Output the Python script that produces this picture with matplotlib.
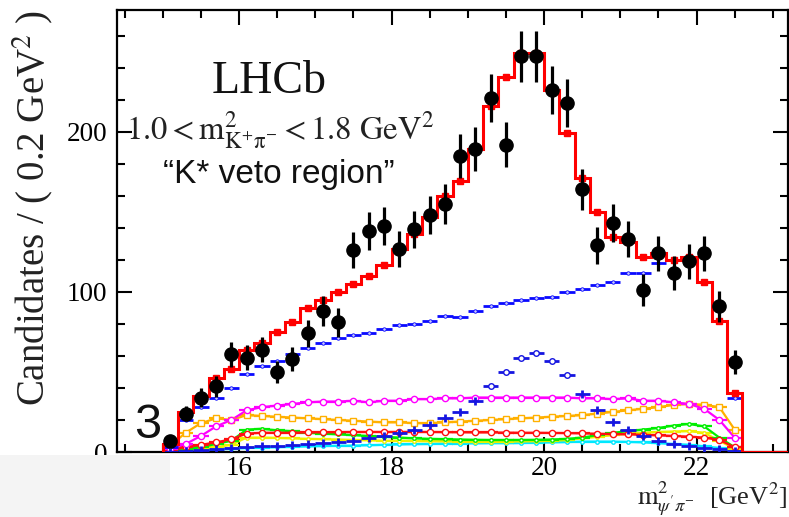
import numpy as np
import matplotlib
matplotlib.use('Agg')
from matplotlib import pyplot as plt
from matplotlib.patches import Rectangle
from matplotlib.ticker import MultipleLocator

plt.rcParams['font.family'] = ['Liberation Serif', 'DejaVu Serif']
plt.rcParams['mathtext.fontset'] = 'stix'

# binning: 0.2 GeV^2 bins between 15.0 and 22.6
edges = np.round(np.arange(15.0, 22.61, 0.2), 1)
m2 = np.round(0.5 * (edges[:-1] + edges[1:]), 2)
XMIN, XMAX = 14.4, 23.2

data = [7, 24, 34, 41, 61, 59, 64, 50, 58, 74, 88, 81, 126, 138, 141, 127, 139, 148,
        155, 185, 189, 221, 192, 247, 247, 226, 218, 164, 129, 143, 133, 101, 124, 112,
        119, 124, 91, 56]
fit = [5, 25, 35, 46, 52, 64, 68, 75, 81, 90, 95, 100, 105, 110, 117, 127, 136, 147,
       160, 169, 189, 216, 234, 249, 249, 226, 199, 171, 150, 134, 131, 122, 124, 120,
       122, 106, 82, 37]

# fit components
comp_blue = [3, 20, 28, 34, 40, 49, 54, 57, 61, 65, 68, 71, 73, 74, 77, 79, 80, 82, 85, 84,
             88, 91, 93, 95, 96, 97, 100, 102, 104, 106, 112, 112, 118, 120, 122, 106, 82, 34]
comp_z = [0.3, 0.8, 1.2, 2, 2.5, 3, 3.5, 4, 4.5, 5, 5.5, 6, 7, 8.5, 10, 12, 14, 17, 21, 25,
          32, 41, 50, 59, 62, 57, 48, 36, 26, 19, 14, 10, 7, 5, 3.5, 2.5, 2, 0.5]
comp_magenta = [2, 5, 10, 16, 20, 26, 28, 29, 30, 31, 31.5, 31.5, 32, 31, 32, 32, 33, 33, 33.5,
                33.5, 34, 34, 34, 34, 34, 34, 34, 33.5, 33.5, 33, 33.5, 32, 32, 31, 30, 27, 20, 9]
comp_orange = [4, 12, 18, 21, 20, 23, 22.5, 22, 21.5, 21, 20.5, 20, 19.5, 19, 18.5, 18.5, 18, 18,
               18.5, 19, 19.5, 20, 20.5, 21, 21.5, 22, 22.5, 23, 24, 25, 26, 27, 28, 29.4, 30,
               29.5, 28, 14]
comp_red = [1, 3, 4.5, 6, 8, 11.5, 12, 12, 12, 12.2, 12.3, 12.4, 12.5, 12.5, 12.5, 12.5, 12.5,
            12.5, 12.4, 12.3, 12.2, 12.2, 12.1, 12, 12, 11.9, 11.8, 11.6, 11.4, 11.2, 11, 10.7,
            10.4, 10, 9.6, 9, 7.5, 3]
comp_green = [0.5, 1.5, 3, 5, 7, 14, 14.5, 13.5, 13, 12, 11.5, 11, 10.5, 10, 9.5, 9, 8.5, 8.2,
              8, 7.8, 7.6, 7.5, 7.5, 7.5, 7.6, 7.8, 8.2, 9, 10.5, 12, 13, 14, 15, 16.5, 17.5,
              16, 9, 3]
comp_yellow = [0.5, 1, 2, 3, 4.5, 9, 9, 8.8, 8.5, 8.2, 8, 7.8, 7.5, 7.3, 7, 7, 6.8, 6.7, 6.6,
               6.5, 6.5, 6.5, 6.5, 6.6, 6.8, 7, 7.5, 8.5, 9.5, 10.5, 11.5, 12, 12.5, 12.8, 13,
               12, 7, 2]
comp_cyan = [0.3, 0.6, 1, 1.5, 2, 2.5, 2.7, 3, 3.2, 3.5, 3.7, 3.9, 4, 4.2, 4.5, 4.7, 4.9, 5,
             5.2, 5.3, 5.4, 5.5, 5.5, 5.6, 5.8, 6, 6.2, 6.5, 6.5, 6.5, 6.3, 6, 5.5, 5, 4.5,
             3.5, 2.5, 1]

W, H = 789, 517
fig = plt.figure(figsize=(W / 100, H / 100), dpi=100)
ax = fig.add_axes([117 / W, 65 / H, 671 / W, 442 / H])

half = 0.1
# lined components with open markers
lined = [
    (comp_cyan, '#00e8ff', 'o', 2.5),
    (comp_yellow, '#f0f000', 'o', 2.5),
    (comp_green, '#00ee00', 'o', 2.5),
    (comp_red, '#ff1010', 'o', 4.5),
    (comp_orange, '#ffb000', 's', 4.5),
    (comp_magenta, '#ff00ff', 'o', 4.5),
]
for vals, col, mk, ms in lined:
    ax.plot(m2, vals, color=col, lw=1.6, zorder=2)
    ax.errorbar(m2, vals, xerr=half, fmt=mk, color=col, mfc='white', mec=col, ms=ms,
                mew=1.0, elinewidth=1.6, capsize=0, zorder=2)

# Z-like peaking component
comp_z = np.array(comp_z)
peak = (m2 > 19.2) & (m2 < 20.4)
ax.errorbar(m2[~peak], comp_z[~peak], xerr=half, yerr=2.5, fmt='none', ecolor='#1515e0',
            elinewidth=2.0, capsize=0, zorder=3)
ax.errorbar(m2[peak], comp_z[peak], xerr=half, fmt='o', color='#1515e0', mfc='white',
            mec='#1515e0', ms=4, mew=1.0, elinewidth=2.0, capsize=0, zorder=3)

# broad blue component
ax.errorbar(m2, comp_blue, xerr=half, fmt='o', color='#0a0aff', mfc='#c8c8ff', mec='#0a0aff',
            ms=2.5, mew=0.6, elinewidth=2.0, capsize=0, zorder=3)

# total fit
ax.stairs(np.append(fit, 0), np.append(edges, XMAX), baseline=0, color='#ff0000', lw=2.2,
          zorder=4)
ax.errorbar(m2, fit, yerr=1.5, fmt='s', color='#ff0000', ms=5, elinewidth=1.5, capsize=0,
            zorder=4)

# data
ax.errorbar(m2, data, yerr=np.sqrt(data), fmt='o', color='black', ms=9.5,
            elinewidth=2.3, capsize=0, zorder=5)

ax.set_xlim(XMIN, XMAX)
ax.set_ylim(0, 276)
ax.xaxis.set_major_locator(MultipleLocator(2))
ax.xaxis.set_minor_locator(MultipleLocator(0.5))
ax.yaxis.set_major_locator(MultipleLocator(100))
ax.yaxis.set_minor_locator(MultipleLocator(20))
ax.tick_params(which='both', direction='in', top=True, right=True, labelsize=19.5,
               width=1.5, colors='black')
ax.tick_params(which='major', length=11)
ax.tick_params(which='minor', length=5.5)
ax.tick_params(axis='x', pad=3)
ax.tick_params(axis='y', pad=7)
for sp in ax.spines.values():
    sp.set_linewidth(1.6)

def px(x, y):
    return x / W, 1 - y / H

fig.text(*px(269, 93), 'LHCb', fontsize=33, ha='center', va='baseline', color='#111111')
fig.text(*px(126, 139), r'$\mathrm{1.0 < m^{2}_{K^{+}\pi^{-}} < 1.8\ GeV^{2}}$',
         fontsize=23.5, ha='left', va='baseline', color='#222222')
fig.text(*px(279, 183), '\u201cK* veto region\u201d', fontsize=24, ha='center',
         va='baseline', color='#111111', family=['Liberation Sans', 'DejaVu Sans'])
fig.text(*px(33, 208), r'Candidates / ( 0.2 GeV$^{2}$ )', fontsize=28, rotation=90,
         ha='center', va='center', color='#222222')
fig.text(*px(787, 505), r"$\mathrm{m}^{2}_{\psi'\pi^{-}}$  [GeV$^{2}$]", fontsize=19,
         ha='right', va='baseline', color='#222222')

# overlay corner: light panel and the panel number
fig.patches.append(Rectangle((0, 0), 170 / W, 62 / H, transform=fig.transFigure,
                             facecolor='#f4f4f4', edgecolor='none', zorder=10))
fig.text(*px(148, 438), '3', fontsize=35, ha='center', va='baseline', color='#111111',
         family=['Liberation Sans', 'DejaVu Sans'], zorder=11)

fig.savefig('out.png', dpi=100)
